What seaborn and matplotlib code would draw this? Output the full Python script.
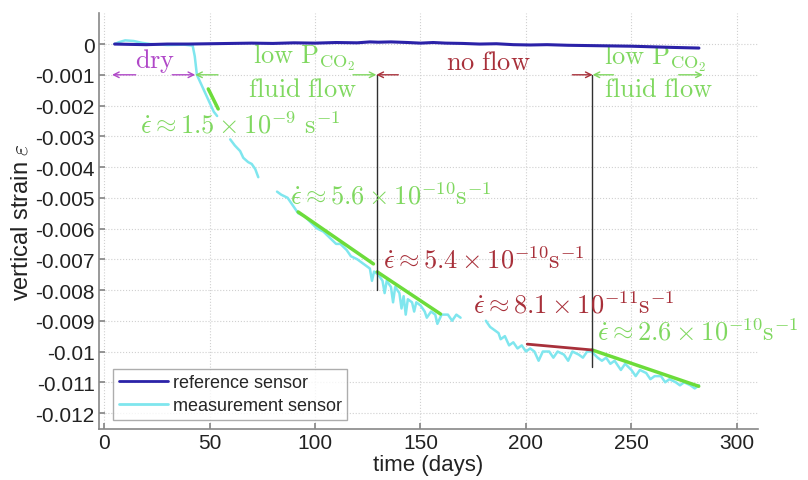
import numpy as np
import pandas as pd
import seaborn as sns
import matplotlib.pyplot as plt
from matplotlib.lines import Line2D

# ---------------- data ----------------
ref_t = [5, 12, 20, 30, 40, 50, 60, 70, 80, 90, 100, 110, 120, 126, 130, 136,
         144, 150, 156, 162, 170, 178, 186, 194, 202, 210, 220, 230, 240, 250,
         260, 270, 282]
ref_eps = [0.0, -0.00001, -0.00002, 0.0, 0.0, 0.00001, 0.00002, 0.00003,
           0.00002, 0.00004, 0.00003, 0.00005, 0.00004, 0.00007, 0.00006,
           0.00007, 0.00005, 0.00003, 0.00005, 0.00003, 0.00002, 0.0,
           0.00001, -0.00002, -0.00003, -0.00002, -0.00004, -0.00005,
           -0.00006, -0.00007, -0.00009, -0.00011, -0.00013]

meas_seg1_t = [5, 7, 10, 14, 18, 22, 30, 38, 42, 43, 44, 46, 48, 50, 52, 53.6]
meas_seg1_eps = [0.0, 0.00006, 0.00012, 0.0001, 0.00004, 0.0, -0.00003,
                 -0.00002, -0.00005, -0.0004, -0.001, -0.0013, -0.0016,
                 -0.0019, -0.0022, -0.00234]
meas_seg2_t = [59.8, 62, 64.5, 66, 68.3, 70, 71.7, 73.1]
meas_seg2_eps = [-0.0031, -0.0033, -0.00348, -0.0037, -0.00384, -0.0039,
                 -0.00407, -0.00433]
meas_seg3_t = [82, 84, 87, 90, 92, 95, 98, 101, 104, 107, 110, 112, 115, 117,
               120, 122, 124, 126, 127, 128, 130, 132, 133, 134, 136, 137, 138,
               140, 141, 142, 143, 144, 146, 147, 148, 150, 152, 153, 155, 157,
               158, 160, 163, 165, 167, 169]
meas_seg3_eps = [-0.0048, -0.0049, -0.005, -0.0053, -0.0055, -0.0056, -0.0058,
                 -0.006, -0.0061, -0.0063, -0.0065, -0.0065, -0.0067, -0.0069,
                 -0.007, -0.0071, -0.0072, -0.0073, -0.0077, -0.0074, -0.0075,
                 -0.0077, -0.0081, -0.0077, -0.0079, -0.0084, -0.0079, -0.0081,
                 -0.0086, -0.0082, -0.0088, -0.0083, -0.0084, -0.0087, -0.0084,
                 -0.0085, -0.0087, -0.0089, -0.0087, -0.0088, -0.0091, -0.0088,
                 -0.0088, -0.009, -0.0088, -0.0089]
meas_seg4_t = [181, 183, 185, 187, 188, 190, 192, 194, 196, 198, 200, 202,
               204, 206, 208, 211, 213, 215, 218, 220, 222, 225, 227, 229, 231,
               234, 236, 238, 240, 242, 245, 247, 250, 252, 254, 257, 259, 261,
               264, 266, 268, 271, 273, 275, 278, 280, 282]
meas_seg4_eps = [-0.009, -0.0092, -0.0093, -0.0094, -0.0096, -0.0095, -0.0098,
                 -0.0097, -0.0099, -0.0098, -0.01, -0.0099, -0.01, -0.0103,
                 -0.01, -0.01, -0.0102, -0.01, -0.0101, -0.0103, -0.01,
                 -0.0101, -0.0102, -0.01, -0.01, -0.0102, -0.0103, -0.0102,
                 -0.0104, -0.0103, -0.0106, -0.0104, -0.0106, -0.0108, -0.0106,
                 -0.0107, -0.0109, -0.0108, -0.0108, -0.011, -0.0109, -0.011,
                 -0.0111, -0.011, -0.0111, -0.0112, -0.0111]

# fitted strain-rate lines: (t0, t1), (eps0, eps1)
fit_green = [((49.4, 54.1), (-0.00146, -0.00211)),
             ((92, 127.7), (-0.00546, -0.00715)),
             ((129.5, 159.5), (-0.00741, -0.00878)),
             ((231.4, 281.9), (-0.00995, -0.01113))]
fit_red = [((200.6, 231.4), (-0.00976, -0.00995))]

phase_t = [129.2, 231.5]
phase_bottom = [-0.008, -0.0105]

C_REF = "#2b22a8"
C_MEAS = "#7fe6ee"
C_FIT = "#6cdc3a"
C_GREEN = "#80d860"
C_RED = "#a8303a"
C_MAG = "#b048c8"
C_VLINE = "#303030"

# ---------------- figure ----------------
sns.set_theme(style="white")
plt.rcParams["font.family"] = ["Liberation Sans", "DejaVu Sans"]
plt.rcParams["mathtext.fontset"] = "cm"
plt.rcParams["axes.unicode_minus"] = False

fig, ax = plt.subplots(figsize=(8.08, 4.81), dpi=100)
fig.subplots_adjust(left=99 / 808, right=758 / 808, bottom=1 - 430 / 481,
                    top=1 - 14 / 481)

ref_df = pd.DataFrame({"t": ref_t, "eps": ref_eps})
segs = [(meas_seg1_t, meas_seg1_eps), (meas_seg2_t, meas_seg2_eps),
        (meas_seg3_t, meas_seg3_eps), (meas_seg4_t, meas_seg4_eps)]
meas_df = pd.concat([pd.DataFrame({"t": t, "eps": e, "seg": i})
                     for i, (t, e) in enumerate(segs)])

sns.lineplot(data=meas_df, x="t", y="eps", units="seg", estimator=None,
             color=C_MEAS, lw=1.8, ax=ax, zorder=3)
sns.lineplot(data=ref_df, x="t", y="eps", color=C_REF, lw=2.2, ax=ax, zorder=4)

for (t0, t1), (e0, e1) in fit_green:
    ax.plot([t0, t1], [e0, e1], color=C_FIT, lw=2.5, zorder=5)
for (t0, t1), (e0, e1) in fit_red:
    ax.plot([t0, t1], [e0, e1], color=C_RED, lw=2, zorder=5)
for t, b in zip(phase_t, phase_bottom):
    ax.plot([t, t], [-0.001, b], color=C_VLINE, lw=1, zorder=6)

# phase arrows at eps = -0.001
def arrow(head, tail, color):
    ax.annotate("", xy=(head, -0.001), xytext=(tail, -0.001),
                arrowprops=dict(arrowstyle="->", color=color, lw=1,
                                shrinkA=0, shrinkB=0, mutation_scale=10),
                zorder=6)

arrow(3.8, 15, C_MAG)
arrow(43.2, 32.3, C_MAG)
arrow(43.2, 54, C_GREEN)
arrow(129.1, 118, C_GREEN)
arrow(129.1, 139.5, C_RED)
arrow(231.6, 222, C_RED)
arrow(231.6, 241.5, C_GREEN)
arrow(283.8, 272.4, C_GREEN)

fs = 19
ax.text(24, -0.00052, r"$\mathrm{dry}$", color=C_MAG, fontsize=fs,
        ha="center", va="center")
ax.text(95, -0.00042, r"$\mathrm{low\ P}_{\mathrm{CO}_2}$", color=C_GREEN,
        fontsize=fs, ha="center", va="center")
ax.text(94, -0.00145, r"$\mathrm{fluid\ flow}$", color=C_GREEN, fontsize=fs,
        ha="center", va="center")
ax.text(182, -0.00058, r"$\mathrm{no\ flow}$", color=C_RED, fontsize=fs,
        ha="center", va="center")
ax.text(237, -0.00045, r"$\mathrm{low\ P}_{\mathrm{CO}_2}$", color=C_GREEN,
        fontsize=fs, ha="left", va="center")
ax.text(237, -0.00145, r"$\mathrm{fluid\ flow}$", color=C_GREEN, fontsize=fs,
        ha="left", va="center")

rate_labels = [
    (17, -0.0026, r"$\dot{\epsilon}\approx 1.5\times 10^{-9}\ \mathrm{s}^{-1}$", C_GREEN),
    (88, -0.0049, r"$\dot{\epsilon}\approx 5.6\times 10^{-10}\mathrm{s}^{-1}$", C_GREEN),
    (132, -0.0070, r"$\dot{\epsilon}\approx 5.4\times 10^{-10}\mathrm{s}^{-1}$", C_RED),
    (175, -0.00846, r"$\dot{\epsilon}\approx 8.1\times 10^{-11}\mathrm{s}^{-1}$", C_RED),
    (233.5, -0.00933, r"$\dot{\epsilon}\approx 2.6\times 10^{-10}\mathrm{s}^{-1}$", C_GREEN),
]
for x, y, s, c in rate_labels:
    ax.text(x, y, s, color=c, fontsize=fs, ha="left", va="center", zorder=7)

# axes styling
x_ticks = [0, 50, 100, 150, 200, 250, 300]
y_ticks = [0, -0.001, -0.002, -0.003, -0.004, -0.005, -0.006, -0.007, -0.008,
           -0.009, -0.01, -0.011, -0.012]
ax.set_xlim(-2.4, 310)
ax.set_ylim(-0.01252, 0.00101)
ax.set_xticks(x_ticks)
ax.set_xticklabels([str(v) for v in x_ticks])
ax.set_yticks(y_ticks)
ax.set_yticklabels(["%g" % v for v in y_ticks])
ax.tick_params(direction="in", length=4, color="#888888", labelsize=15,
               labelcolor="#222222", left=True, bottom=True, pad=3)
ax.grid(True, color="#d0d0d0", lw=0.8, ls=":")
for side in ["top", "right"]:
    ax.spines[side].set_visible(False)
for side in ["left", "bottom"]:
    ax.spines[side].set_color("#888888")
    ax.spines[side].set_linewidth(1.2)

ax.set_xlabel("time (days)", fontsize=16, color="#222222", labelpad=1)
ax.set_ylabel(r"vertical strain $\varepsilon$", fontsize=17, color="#222222",
              labelpad=2)

handles = [Line2D([], [], color=C_REF, lw=2),
           Line2D([], [], color=C_MEAS, lw=2)]
leg = ax.legend(handles, ["reference sensor", "measurement sensor"],
                loc="lower left", bbox_to_anchor=(0.022, 0.022), fontsize=13,
                frameon=True, fancybox=False, edgecolor="#999999",
                handlelength=2.7, borderpad=0.3, labelspacing=0.35,
                handletextpad=0.3, borderaxespad=0)
leg.get_frame().set_linewidth(1)

fig.savefig("out.png", dpi=100)
